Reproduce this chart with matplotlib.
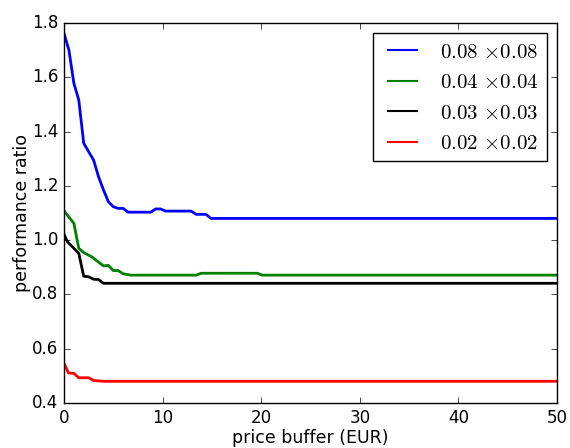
import matplotlib
matplotlib.use("Agg")
import matplotlib.pyplot as plt

plt.style.use('classic')
plt.rcParams['mathtext.fontset'] = 'cm'

# price buffer (EUR) breakpoints and performance ratio, one pair per grid size
x_08 = [0, 0.5, 1, 1.5, 2, 3, 3.5, 4, 4.5, 5, 5.5, 6, 6.5, 8.8, 9.3, 9.8, 10.3, 12.9, 13.4, 14.4, 14.9, 50]
y_08 = [1.762, 1.70, 1.578, 1.516, 1.357, 1.295, 1.234, 1.185, 1.142, 1.123, 1.117, 1.117, 1.103, 1.103,
        1.115, 1.115, 1.107, 1.107, 1.095, 1.095, 1.080, 1.080]

x_04 = [0, 1, 1.5, 2, 2.8, 4, 4.5, 5, 5.5, 6, 6.8, 13.4, 13.9, 19.6, 20.1, 50]
y_04 = [1.108, 1.062, 0.970, 0.954, 0.939, 0.905, 0.907, 0.888, 0.888, 0.876, 0.871, 0.871,
        0.878, 0.878, 0.871, 0.871]

x_03 = [0, 0.35, 1, 1.5, 2, 2.5, 3, 3.5, 4, 50]
y_03 = [1.022, 0.994, 0.970, 0.951, 0.867, 0.865, 0.856, 0.855, 0.841, 0.841]

x_02 = [0, 0.45, 1, 1.5, 2.5, 3, 4, 50]
y_02 = [0.546, 0.511, 0.509, 0.493, 0.493, 0.483, 0.480, 0.480]

labels = [r'$0.08$ $\times 0.08$', r'$0.04$ $\times 0.04$',
          r'$0.03$ $\times 0.03$', r'$0.02$ $\times 0.02$']

fig = plt.figure(figsize=(5.7, 4.48), dpi=100, facecolor='white')
ax = fig.add_axes([64 / 570, 1 - 403 / 448, 493 / 570, 380 / 448])

ax.plot(x_08, y_08, color='blue', lw=2, label=labels[0])
ax.plot(x_04, y_04, color='green', lw=2, label=labels[1])
ax.plot(x_03, y_03, color='black', lw=2, label=labels[2])
ax.plot(x_02, y_02, color='red', lw=2, label=labels[3])

ax.set_xlim(0, 50)
ax.set_ylim(0.4, 1.8)
ax.set_xlabel('price buffer (EUR)', fontsize=12.5, labelpad=2)
ax.set_ylabel('performance ratio', fontsize=12.5, labelpad=1)
leg = ax.legend(loc='upper right', fontsize=15)
for line in leg.get_lines():
    line.set_linewidth(1.5)

fig.savefig('out.png', dpi=100, facecolor='white')
